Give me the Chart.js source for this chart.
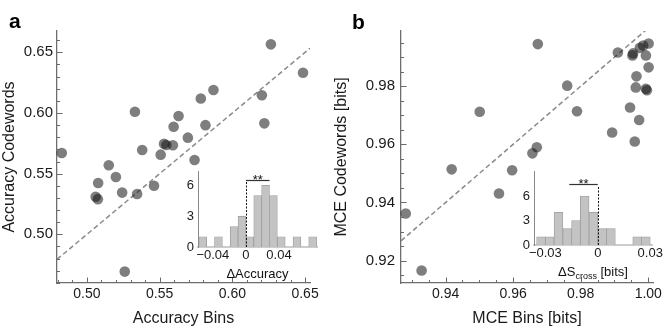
<!DOCTYPE html>
<html>
<head>
<meta charset="utf-8">
<script src="https://cdn.jsdelivr.net/npm/chart.js@4.4.0/dist/chart.umd.min.js"></script>
<style>
  html, body { margin: 0; padding: 0; background: #fff; }
  #lienzo { position: relative; width: 664px; height: 332px; overflow: hidden; }
  .caixa { position: absolute; }
  .letra { position: absolute; font: bold 21px 'Liberation Sans', Arial, sans-serif; line-height: 1; color: #000; }
</style>
</head>
<body>
<div id="lienzo">
  <div class="caixa" style="left:0;top:0;width:332px;height:332px"><canvas id="graficoA"></canvas></div>
  <div class="caixa" style="left:332px;top:0;width:332px;height:332px"><canvas id="graficoB"></canvas></div>
  <div class="caixa" style="left:168px;top:160px;width:160px;height:125px"><canvas id="histA"></canvas></div>
  <div class="caixa" style="left:500px;top:160px;width:164px;height:125px"><canvas id="histB"></canvas></div>
  <div class="letra" style="left:9px;top:10px">a</div>
  <div class="letra" style="left:352px;top:11px">b</div>
</div>
<script>
// painel a: acuracia
const acuraciaBins = [0.4827, 0.515, 0.533, 0.538, 0.5507, 0.553, 0.5546, 0.5591, 0.5596, 0.563, 0.5694, 0.574, 0.5783, 0.5815,
  0.587, 0.6203, 0.622, 0.6265, 0.6486, 0.5077, 0.5199, 0.506, 0.5075, 0.5242, 0.5345, 0.5461, 0.526];
const acuraciaCodewords = [0.567, 0.557, 0.601, 0.5695, 0.5657, 0.5747, 0.5736, 0.5734, 0.5887, 0.5975, 0.5797, 0.5613, 0.612, 0.590,
  0.619, 0.6146, 0.5915, 0.6566, 0.6332, 0.5423, 0.5473, 0.531, 0.529, 0.5344, 0.5333, 0.540, 0.4693];
const ticksA = [0.50, 0.55, 0.60, 0.65];
const limitesAx = [0.4794, 0.6534];
const limitesAy = [0.4599, 0.6676];

// painel b: MCE
const mceBins = [0.9673, 0.9910, 0.9955, 0.9953, 0.9975, 0.9985, 1.0001, 0.9993, 1.0001, 0.9965, 0.9963, 0.9993, 0.9996, 0.976,
  0.9501, 0.9789, 0.9946, 0.9973, 0.9893, 0.996, 0.967, 0.9657, 0.9418, 0.9597, 0.9558, 0.9282, 0.9329];
const mceCodewords = [0.9945, 0.9916, 0.9913, 0.9906, 0.9932, 0.9940, 0.9947, 0.9906, 0.9865, 0.9834, 0.9796, 0.9791, 0.9786, 0.9802,
  0.9712, 0.9714, 0.9727, 0.9684, 0.9641, 0.961, 0.959, 0.9569, 0.9514, 0.9511, 0.9431, 0.9362, 0.9166];
const ticksBx = [0.94, 0.96, 0.98, 1.00];
const ticksBy = [0.92, 0.94, 0.96, 0.98];
const limitesBx = [0.9268, 1.0014];
const limitesBy = [0.9123, 0.999];

// histogramas
const centrosA = [-0.05225, -0.04275, -0.03325, -0.02375, -0.01425, -0.00475, 0.00475, 0.01425, 0.02375, 0.03325, 0.04275,
  0.05225, 0.06175, 0.07125, 0.08075];
const contagemA = [1, 0, 1, 0, 2, 3, 1, 5, 6, 5, 1, 0, 1, 0, 1];
const ticksHistAx = [-0.04, 0, 0.04];
const centrosB = [-0.0325, -0.0275, -0.0225, -0.0175, -0.0125, -0.0075, -0.0025, 0.0025, 0.0075, 0.0125, 0.0175, 0.0225, 0.0275];
const contagemB = [1, 1, 4, 2, 3, 6, 4, 2, 2, 0, 0, 1, 1];
const ticksHistBx = [-0.03, 0, 0.03];
const ticksHistY = [0, 3, 6];
const signifA = [0, 0.0285];
const signifB = [-0.0163, 0];

Chart.defaults.font.family = "'Liberation Sans', Arial, sans-serif";
Chart.defaults.color = '#1a1a1a';

// marcas de escala pra dentro do grafico
const marcas = {
  id: 'marcas',
  afterDraw(chart, args, opts) {
    const ctx = chart.ctx;
    ctx.save();
    ctx.strokeStyle = '#6a6a6a';
    ctx.lineWidth = 1;
    ['x', 'y'].forEach(id => {
      const s = chart.scales[id];
      const passo = opts[id];
      const k0 = Math.ceil(s.min / passo - 1e-6), k1 = Math.floor(s.max / passo + 1e-6);
      for (let k = k0; k <= k1; k++) {
        const v = k * passo;
        const maior = s.ticks.some(t => Math.abs(t.value - v) < passo / 10);
        const tam = maior ? 5.5 : 3;
        const p = Math.round(s.getPixelForValue(v)) + 0.5;
        ctx.beginPath();
        if (id === 'x') { ctx.moveTo(p, s.top); ctx.lineTo(p, s.top - tam); }
        else { ctx.moveTo(s.right, p); ctx.lineTo(s.right + tam, p); }
        ctx.stroke();
      }
    });
    ctx.restore();
  }
};

// linha de significancia, zero pontilhado e titulo com subscrito
const extras = {
  id: 'extras',
  afterDraw(chart, args, o) {
    const ctx = chart.ctx, x = chart.scales.x, y = chart.scales.y, area = chart.chartArea;
    ctx.save();
    const px0 = Math.round(x.getPixelForValue(0)) + 0.5;
    ctx.strokeStyle = '#111';
    ctx.lineWidth = 1;
    ctx.setLineDash([2, 1.5]);
    ctx.beginPath();
    ctx.moveTo(px0, y.getPixelForValue(0));
    ctx.lineTo(px0, y.getPixelForValue(o.topoZero));
    ctx.stroke();
    ctx.setLineDash([]);
    const ys = Math.round(y.getPixelForValue(o.alturaSig)) + 0.5;
    ctx.strokeStyle = '#333';
    ctx.lineWidth = 1.2;
    ctx.beginPath();
    ctx.moveTo(x.getPixelForValue(o.sig[0]), ys);
    ctx.lineTo(x.getPixelForValue(o.sig[1]), ys);
    ctx.stroke();
    ctx.fillStyle = '#111';
    ctx.font = "13px 'Liberation Sans', Arial, sans-serif";
    ctx.textAlign = 'center';
    ctx.textBaseline = 'alphabetic';
    ctx.fillText('**', (x.getPixelForValue(o.sig[0]) + x.getPixelForValue(o.sig[1])) / 2, ys + 3.5);
    // titulo
    let largura = 0;
    o.titulo.forEach(p => { ctx.font = p.tam + "px 'Liberation Sans', Arial, sans-serif"; largura += ctx.measureText(p.t).width; });
    let cx = (area.left + area.right) / 2 - largura / 2;
    const base = area.bottom + 31;
    ctx.textAlign = 'left';
    o.titulo.forEach(p => {
      ctx.font = p.tam + "px 'Liberation Sans', Arial, sans-serif";
      ctx.fillText(p.t, cx, base + (p.dy || 0));
      cx += ctx.measureText(p.t).width;
    });
    ctx.restore();
  }
};

function pontos(xs, ys) {
  return xs.map((v, i) => ({ x: v, y: ys[i] }));
}

function graficoDispersao(id, xs, ys, limX, limY, tX, tY, tituloX, tituloY, o) {
  return new Chart(document.getElementById(id), {
    type: 'scatter',
    data: {
      datasets: [
        {
          data: pontos(xs, ys),
          backgroundColor: 'rgba(20,20,20,0.55)',
          borderWidth: 0,
          pointRadius: 5.3,
          pointHoverRadius: 5.3,
          clip: false
        },
        {
          data: [{ x: limX[0], y: limX[0] }, { x: limX[1], y: limX[1] }],
          showLine: true,
          borderColor: '#8a8a8a',
          borderWidth: 1.5,
          borderDash: [5, 3],
          pointRadius: 0
        }
      ]
    },
    options: {
      responsive: true,
      maintainAspectRatio: false,
      animation: false,
      devicePixelRatio: 1,
      layout: { padding: { top: o.topo, right: o.direita, bottom: 0, left: 0 } },
      plugins: { legend: { display: false }, tooltip: { enabled: false }, marcas: { x: o.passoX, y: o.passoY } },
      scales: {
        x: {
          type: 'linear', min: limX[0], max: limX[1],
          afterBuildTicks: s => { s.ticks = tX.map(v => ({ value: v })); },
          afterFit: s => { s.height = 49; s.paddingLeft = 0; s.paddingRight = 0; },
          grid: { display: false, drawTicks: false },
          border: { display: true, color: '#6e6e6e', width: 1.3 },
          ticks: { autoSkip: false, includeBounds: false, padding: 3, font: { size: 14 }, callback: v => v.toFixed(2) },
          title: { display: true, text: tituloX, font: { size: 16 }, color: '#1a1a1a', padding: { top: 0, bottom: 3.5 } }
        },
        y: {
          type: 'linear', min: limY[0], max: limY[1],
          afterBuildTicks: s => { s.ticks = tY.map(v => ({ value: v })); },
          afterFit: s => { s.width = o.larguraY; s.paddingTop = 0; s.paddingBottom = 0; },
          grid: { display: false, drawTicks: false },
          border: { display: true, color: '#6e6e6e', width: 1.3 },
          ticks: { autoSkip: false, includeBounds: false, padding: o.padY, font: { size: 15 }, callback: v => v.toFixed(2) },
          title: { display: true, text: tituloY, font: { size: 16 }, color: '#1a1a1a', padding: { top: 0, bottom: 0 } }
        }
      }
    },
    plugins: [marcas]
  });
}

function histograma(id, centros, contagem, limX, maxY, tX, o) {
  return new Chart(document.getElementById(id), {
    type: 'bar',
    data: {
      datasets: [{
        data: pontos(centros, contagem),
        backgroundColor: '#c3c3c3',
        borderColor: '#9c9c9c',
        borderWidth: 0.8,
        barPercentage: 1,
        categoryPercentage: 1
      }]
    },
    options: {
      responsive: true,
      maintainAspectRatio: false,
      animation: false,
      devicePixelRatio: 1,
      layout: { padding: { top: o.topo, right: o.direita, bottom: 0, left: 0 } },
      plugins: { legend: { display: false }, tooltip: { enabled: false }, extras: o.extras },
      scales: {
        x: {
          type: 'linear', min: limX[0], max: limX[1], offset: false,
          afterBuildTicks: s => { s.ticks = tX.map(v => ({ value: v })); },
          afterFit: s => { s.height = o.alturaX; s.paddingLeft = 0; s.paddingRight = 0; },
          grid: { display: false, drawTicks: false },
          border: { display: true, color: '#cdcdcd', width: 2 },
          ticks: {
            autoSkip: false, includeBounds: false, padding: 1, font: { size: 13 },
            callback: v => v === 0 ? '0' : (v < 0 ? '\u2212' + Math.abs(v) : String(v))
          }
        },
        y: {
          type: 'linear', min: 0, max: maxY,
          afterBuildTicks: s => { s.ticks = ticksHistY.map(v => ({ value: v })); },
          afterFit: s => { s.width = o.larguraY; s.paddingTop = 0; s.paddingBottom = 0; },
          grid: { display: false, drawTicks: false },
          border: { display: true, color: '#8a8a8a', width: 1 },
          ticks: { autoSkip: false, includeBounds: false, padding: 4, font: { size: 13 } }
        }
      }
    },
    plugins: [extras]
  });
}

window.onload = () => {
  graficoDispersao('graficoA', acuraciaBins, acuraciaCodewords, limitesAx, limitesAy, ticksA, ticksA,
    'Accuracy Bins', 'Accuracy Codewords',
    { topo: 31, direita: 22, larguraY: 57, padY: 4, passoX: 0.01, passoY: 0.01 });
  graficoDispersao('graficoB', mceBins, mceCodewords, limitesBx, limitesBy, ticksBx, ticksBy,
    'MCE Bins [bits]', 'MCE Codewords [bits]',
    { topo: 31, direita: 11, larguraY: 69, padY: 6, passoX: 0.005, passoY: 0.005 });
  histograma('histA', centrosA, contagemA, [-0.058, 0.086], 7.4, ticksHistAx,
    { topo: 11, direita: 11, alturaX: 38, larguraY: 30,
      extras: { sig: signifA, alturaSig: 6.55, topoZero: 6.35, titulo: [{ t: '\u0394Accuracy', tam: 13 }] } });
  histograma('histB', centrosB, contagemB, [-0.0365, 0.031], 9, ticksHistBx,
    { topo: 11.5, direita: 12, alturaX: 40, larguraY: 34,
      extras: { sig: signifB, alturaSig: 7.53, topoZero: 7.1,
        titulo: [{ t: '\u0394S', tam: 13 }, { t: 'cross', tam: 9, dy: 3 }, { t: ' [bits]', tam: 13 }] } });
};
</script>
</body>
</html>
